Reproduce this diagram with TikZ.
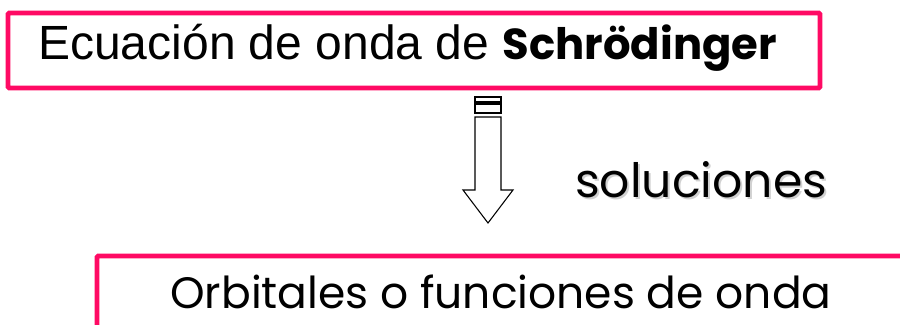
\documentclass[tikz,border=0pt]{standalone}
\usepackage{fontspec}
\setmainfont{Liberation Sans}
\newfontfamily\handfont{Poppins}
\usetikzlibrary{calc}
\definecolor{CP}{HTML}{FF0A64}
\tikzset{
	box/.style = {draw=CP, line width=3.6pt, rounded corners=1pt},
	txt/.style = {inner sep=0pt, anchor=base west},
	blk/.style = {draw=black, line width=0.8pt, fill=white},
}

\begin{document}
\begin{tikzpicture}[x=0.75pt, y=-0.75pt]
		
		%%═══════════════════════════════════════════════════════════════════
		%% PAGE   (pixel grid 900 x 325, y downwards)
		%%═══════════════════════════════════════════════════════════════════
		\useasboundingbox (0, 0) rectangle (900, 325);
		
		%% Equation box ────────────────────────────────────────────────────
		\draw[box] (8, 13) rectangle (820, 88);
		\node[txt, font=\fontsize{36}{40}\selectfont] (eq) at (38, 59)
		{Ecuación de onda de {\handfont\bfseries\fontsize{32.5}{36}\selectfont Schrödinger}};
		
		%% Block arrow ─────────────────────────────────────────────────────
		\coordinate (top) at (488, 97);
		\draw[blk] ($(top)+(-13, 0)$) rectangle ($(top)+(13, 5)$);
		\draw[blk] ($(top)+(-13, 7)$) rectangle ($(top)+(13, 16)$);
		\draw[blk] ($(top)+(-13, 20)$) -- ($(top)+(-13, 93)$)
		-- ($(top)+(-25, 93)$) -- ($(top)+(0, 126)$) -- ($(top)+(25, 93)$)
		-- ($(top)+(13, 93)$) -- ($(top)+(13, 20)$) -- cycle;
		
		%% Label ───────────────────────────────────────────────────────────
		\node[txt, font=\handfont\fontsize{35.5}{38}\selectfont, color=black!18]
		at (577, 199) {soluciones};
		\node[txt, font=\handfont\fontsize{35.5}{38}\selectfont] (sol)
		at (575, 197) {soluciones};
		
		%% Orbital box ─────────────────────────────────────────────────────
		\draw[box] (97, 340) -- (97, 256) -- (910, 256);
		\node[txt, font=\handfont\fontsize{33}{36}\selectfont] (orb)
		at (170, 308) {Orbitales o funciones de onda};
		
	\end{tikzpicture}
\end{document}
